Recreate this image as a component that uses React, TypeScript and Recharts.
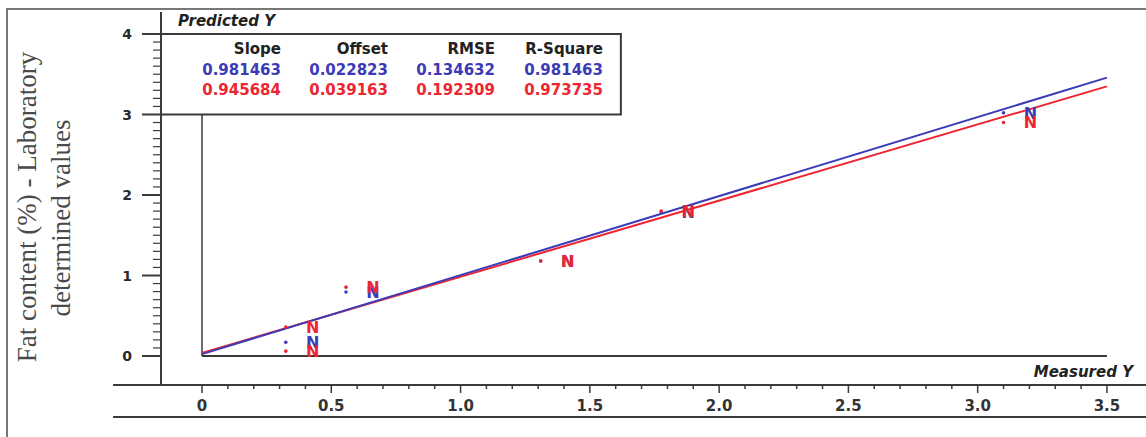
import React from "react";
import {
  ComposedChart,
  XAxis,
  YAxis,
  Line,
  Scatter,
  ReferenceLine,
  ReferenceArea,
} from "recharts";

const blueMeasured = [0.324, 0.557, 1.31, 1.776, 3.1];
const bluePredicted = [0.17, 0.795, 1.18, 1.79, 3.02];
const redMeasured = [0.324, 0.324, 0.557, 1.31, 1.776, 3.1];
const redPredicted = [0.06, 0.36, 0.855, 1.18, 1.8, 2.9];

// regression line end points
const lineX = [0, 3.5];
const blueLineY = [0.023, 3.458];
const redLineY = [0.039, 3.349];

const statHeaders = ["Slope", "Offset", "RMSE", "R-Square"];
const blueStats = ["0.981463", "0.022823", "0.134632", "0.981463"];
const redStats = ["0.945684", "0.039163", "0.192309", "0.973735"];

// ticks every 0.1, labelled ones listed separately
const xTicks = Array.from({ length: 36 }, (_, i) => +(i * 0.1).toFixed(1));
const xLabels = [0, 0.5, 1, 1.5, 2, 2.5, 3, 3.5];
const yTicks = Array.from({ length: 41 }, (_, i) => +(i * 0.1).toFixed(1));
const yLabels = [0, 1, 2, 3, 4];

const BLUE = "#3b3bb8";
const RED = "#ee2530";
const INK = "#3a3a3a";
const BOLD = "'DejaVu Sans', sans-serif";

const X_DOMAIN: [number, number] = [-0.1586, 3.651];
const Y_DOMAIN: [number, number] = [-0.3602, 4.273];

const toPoints = (xs: number[], ys: number[]) => xs.map((x, i) => ({ x, y: ys[i] }));

const blueData = toPoints(blueMeasured, bluePredicted);
const redData = toPoints(redMeasured, redPredicted);
const blueLine = toPoints(lineX, blueLineY);
const redLine = toPoints(lineX, redLineY);

const sampleMark = (color: string) => (props: any) => {
  const { cx, cy } = props;
  return (
    <g>
      <circle cx={cx} cy={cy} r={1.8} fill={color} />
      <text
        x={cx + 27}
        y={cy}
        dy="0.36em"
        textAnchor="middle"
        fontFamily={BOLD}
        fontWeight="bold"
        fontSize={16}
        fill={color}
      >
        N
      </text>
    </g>
  );
};

const XTick = (props: any) => {
  const { x, y, payload } = props;
  const v = payload.value;
  const major = xLabels.includes(v);
  return (
    <g>
      <line x1={x} x2={x} y1={y} y2={y + (major ? 8 : 4)} stroke={INK} strokeWidth={1.5} />
      {major && (
        <text
          x={x}
          y={y + 26}
          textAnchor="middle"
          fontFamily={BOLD}
          fontWeight="bold"
          fontSize={15}
          fill="#333"
        >
          {v === 0 ? "0" : v.toFixed(1)}
        </text>
      )}
    </g>
  );
};

const YTick = (props: any) => {
  const { x, y, payload } = props;
  const v = payload.value;
  const major = yLabels.includes(v);
  return (
    <g>
      <line
        x1={x - (major ? 19 : 8)}
        x2={x}
        y1={y}
        y2={y}
        stroke={INK}
        strokeWidth={major ? 2 : 1.2}
      />
      {major && (
        <text
          x={x - 29}
          y={y}
          dy="0.36em"
          textAnchor="end"
          fontFamily={BOLD}
          fontWeight="bold"
          fontSize={14}
          fill="#2a2a2a"
        >
          {v}
        </text>
      )}
    </g>
  );
};

const colRight = [281, 388, 495, 603];
const rowMid = [49, 70, 90];

const StatCell = ({ text, col, row, color }: any) => (
  <span
    style={{
      position: "absolute",
      left: colRight[col] - 120,
      width: 120,
      top: rowMid[row] - 10,
      lineHeight: "20px",
      textAlign: "right",
      fontFamily: BOLD,
      fontWeight: "bold",
      fontSize: 15,
      color,
    }}
  >
    {text}
  </span>
);

export default function App() {
  return (
    <div
      style={{
        position: "absolute",
        left: 0,
        top: 0,
        width: 1146,
        height: 437,
        background: "#fff",
        overflow: "hidden",
      }}
    >
      {/* frame of the screenshot */}
      <div
        style={{
          position: "absolute",
          left: 6,
          top: 8,
          right: 0,
          bottom: 0,
          borderTop: "2px solid #777",
          borderLeft: "2px solid #777",
        }}
      />
      <ComposedChart
        width={1146}
        height={437}
        margin={{ top: 12, right: 0, bottom: 0, left: 0 }}
        style={{ position: "absolute", left: 0, top: 0 }}
      >
        <XAxis
          dataKey="x"
          type="number"
          domain={X_DOMAIN}
          allowDataOverflow
          ticks={xTicks}
          interval={0}
          height={52}
          axisLine={false}
          tickLine={false}
          tickSize={0}
          tickMargin={0}
          tick={<XTick />}
        />
        <YAxis
          type="number"
          domain={Y_DOMAIN}
          allowDataOverflow
          ticks={yTicks}
          interval={0}
          width={161}
          axisLine={{ stroke: INK, strokeWidth: 2 }}
          tickLine={false}
          tickSize={0}
          tickMargin={0}
          tick={<YTick />}
          label={{
            content: () => (
              <g fontFamily="'Liberation Serif', 'Times New Roman', serif" fontSize={27} fill="#4a4a4a">
                <text transform="translate(36,207) rotate(-90)" textAnchor="middle">
                  Fat content (%) - Laboratory
                </text>
                <text transform="translate(70,218) rotate(-90)" textAnchor="middle">
                  determined values
                </text>
              </g>
            ),
          }}
        />

        {/* outer axis base lines */}
        <ReferenceLine
          segment={[{ x: -0.344, y: Y_DOMAIN[0] }, { x: X_DOMAIN[1], y: Y_DOMAIN[0] }]}
          stroke={INK}
          strokeWidth={2}
          ifOverflow="visible"
        />
        <ReferenceLine
          segment={[{ x: -0.344, y: -0.758 }, { x: X_DOMAIN[1], y: -0.758 }]}
          stroke={INK}
          strokeWidth={2}
          ifOverflow="visible"
        />

        {/* stats box */}
        <ReferenceArea
          x1={X_DOMAIN[0]}
          x2={1.62}
          y1={3}
          y2={4}
          fill="#fff"
          fillOpacity={1}
          stroke={INK}
          strokeWidth={2}
          ifOverflow="visible"
        />

        {/* inner frame */}
        <ReferenceLine
          segment={[{ x: 0, y: 0 }, { x: 0, y: 3 }]}
          stroke={INK}
          strokeWidth={1.5}
          ifOverflow="visible"
        />
        <ReferenceLine
          segment={[{ x: 0, y: 0 }, { x: 3.5, y: 0 }]}
          stroke={INK}
          strokeWidth={2}
          ifOverflow="visible"
        />

        <Line
          data={redLine}
          dataKey="y"
          type="linear"
          stroke={RED}
          strokeWidth={2}
          dot={false}
          activeDot={false}
          isAnimationActive={false}
        />
        <Line
          data={blueLine}
          dataKey="y"
          type="linear"
          stroke={BLUE}
          strokeWidth={2}
          dot={false}
          activeDot={false}
          isAnimationActive={false}
        />
        <Scatter data={blueData} dataKey="y" shape={sampleMark(BLUE)} isAnimationActive={false} />
        <Scatter data={redData} dataKey="y" shape={sampleMark(RED)} isAnimationActive={false} />
      </ComposedChart>

      {/* axis captions */}
      <span
        style={{
          position: "absolute",
          left: 178,
          top: 11,
          lineHeight: "20px",
          fontFamily: BOLD,
          fontWeight: "bold",
          fontStyle: "italic",
          fontSize: 15,
          color: "#222",
        }}
      >
        Predicted Y
      </span>
      <span
        style={{
          position: "absolute",
          right: 13,
          top: 362,
          lineHeight: "20px",
          fontFamily: BOLD,
          fontWeight: "bold",
          fontStyle: "italic",
          fontSize: 15,
          color: "#222",
        }}
      >
        Measured Y
      </span>

      {/* stats table */}
      {statHeaders.map((t, i) => (
        <StatCell key={"h" + i} text={t} col={i} row={0} color="#222" />
      ))}
      {blueStats.map((t, i) => (
        <StatCell key={"b" + i} text={t} col={i} row={1} color={BLUE} />
      ))}
      {redStats.map((t, i) => (
        <StatCell key={"r" + i} text={t} col={i} row={2} color={RED} />
      ))}
    </div>
  );
}
